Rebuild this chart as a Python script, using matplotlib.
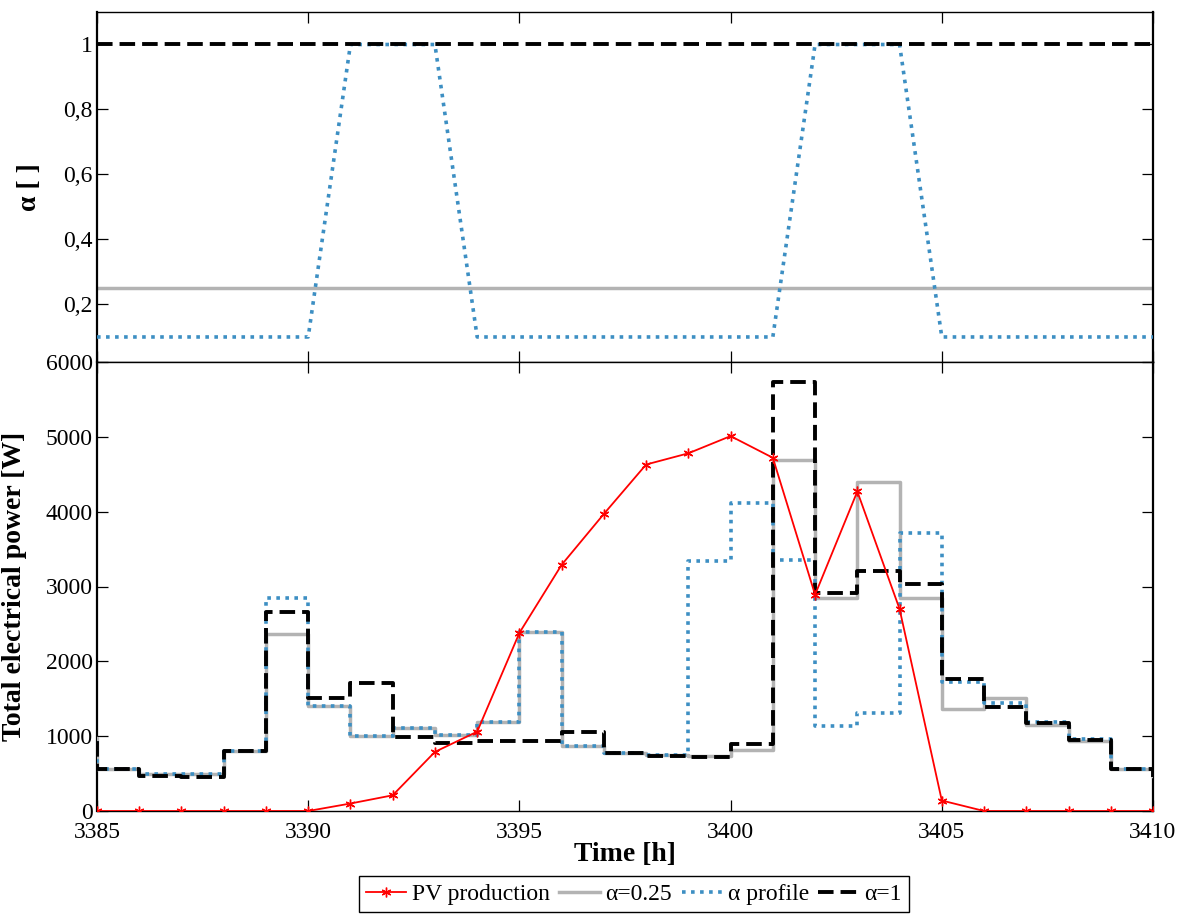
import numpy as np
import matplotlib
matplotlib.use("Agg")
import matplotlib.pyplot as plt
from matplotlib.ticker import FuncFormatter, MultipleLocator

plt.rcParams['font.family'] = ['Liberation Serif', 'DejaVu Serif']
plt.rcParams['mathtext.fontset'] = 'stix'

# ---- data ----
# hourly time stamps of the PV production and of the alpha profile
hours = np.arange(3385, 3411)
pv_production = [0, 0, 0, 0, 0, 0, 100, 210, 790, 1060, 2380, 3290, 3970,
                 4630, 4780, 5010, 4720, 2890, 4270, 2700, 140, 0, 0, 0, 0, 0]
alpha_profile = [0.1, 0.1, 0.1, 0.1, 0.1, 0.1, 1, 1, 1, 0.1, 0.1, 0.1, 0.1,
                 0.1, 0.1, 0.1, 0.1, 1, 1, 1, 0.1, 0.1, 0.1, 0.1, 0.1, 0.1]
alpha_low = 0.25
alpha_high = 1.0

# hourly consumption blocks, each value holds from its start hour to the next
block_start = np.arange(3384, 3411)
power_alpha_025 = [980, 555, 495, 500, 805, 2370, 1400, 1000, 1105, 1015, 1190,
                   2390, 865, 780, 745, 735, 820, 4690, 2840, 4400, 2850, 1360,
                   1515, 1150, 935, 565, 470]
power_alpha_profile = [980, 560, 490, 495, 805, 2850, 1405, 1000, 1105, 1015,
                       1190, 2395, 865, 775, 745, 3345, 4115, 3350, 1130, 1310,
                       3720, 1725, 1440, 1190, 965, 565, 470]
power_alpha_1 = [980, 555, 470, 455, 800, 2660, 1515, 1705, 985, 915, 935, 935,
                 1050, 770, 735, 715, 890, 5730, 2915, 3210, 3040, 1770, 1390,
                 1170, 955, 560, 460]

# ---- styles ----
GRAY = '#b3b3b3'
BLUE = '#3d8fc3'
RED = '#ff0000'
dash_black = (0, (4.0, 1.8))
dot_blue = (0, (1.0, 1.5))
asterisk = (6, 2, 0)

W, H = 1184, 914
fig = plt.figure(figsize=(W / 100, H / 100), dpi=100)
ax_top = fig.add_axes([97 / W, 1 - 362 / H, 1056 / W, 350 / H])
ax_bot = fig.add_axes([97 / W, 1 - 811 / H, 1056 / W, 449 / H])

FS = 17
LABEL_FS = 20

def style_axes(ax):
    for side in ['top', 'bottom']:
        ax.spines[side].set_linewidth(1.0)
    for side in ['left', 'right']:
        ax.spines[side].set_linewidth(1.6)
    ax.tick_params(direction='in', length=8, width=0.9, top=True, right=True,
                   labelsize=FS)
    ax.tick_params(axis='x', pad=8)
    ax.tick_params(axis='y', pad=3)

# ---- top panel: alpha ----
ax_top.plot([hours[0], hours[-1]], [alpha_low, alpha_low], color=GRAY, lw=2.5,
            zorder=2)
ax_top.plot(hours, alpha_profile, color=BLUE, lw=2.6, linestyle=dot_blue,
            zorder=3)
ax_top.plot([hours[0], hours[-1]], [alpha_high, alpha_high], color='black',
            lw=2.8, linestyle=dash_black, zorder=4)
ax_top.set_xlim(3385, 3410)
ax_top.set_ylim(0.023, 1.1)
ax_top.xaxis.set_major_locator(MultipleLocator(5))
ax_top.set_yticks([0.2, 0.4, 0.6, 0.8, 1.0])
ax_top.yaxis.set_major_formatter(
    FuncFormatter(lambda v, p: ('%g' % v).replace('.', ',')))
style_axes(ax_top)
ax_top.tick_params(labelbottom=False)
ax_top.set_ylabel('α [ ]', fontsize=LABEL_FS, fontweight='bold')
ax_top.yaxis.set_label_coords(-0.052, 0.5)

# ---- bottom panel: electrical power ----
l_pv, = ax_bot.plot(hours, pv_production, color=RED, lw=1.3, marker=asterisk,
                    markersize=7, markeredgewidth=1.0, zorder=6,
                    label='PV production')
l_025, = ax_bot.step(block_start, power_alpha_025, where='post', color=GRAY,
                     lw=2.5, zorder=3, label='α=0.25')
l_prof, = ax_bot.step(block_start, power_alpha_profile, where='post',
                      color=BLUE, lw=2.6, linestyle=dot_blue, zorder=4,
                      label='α profile')
l_1, = ax_bot.step(block_start, power_alpha_1, where='post', color='black',
                   lw=2.8, linestyle=dash_black, zorder=5, label='α=1')
ax_bot.set_xlim(3385, 3410)
ax_bot.set_ylim(0, 6000)
ax_bot.xaxis.set_major_locator(MultipleLocator(5))
ax_bot.yaxis.set_major_locator(MultipleLocator(1000))
style_axes(ax_bot)
ax_bot.set_ylabel('Total electrical power [W]', fontsize=LABEL_FS,
                  fontweight='bold')
ax_bot.yaxis.set_label_coords(-0.066, 0.5)
ax_bot.set_xlabel('Time [h]', fontsize=LABEL_FS, fontweight='bold')
ax_bot.xaxis.set_label_coords(0.5, -0.068)

leg = fig.legend(handles=[l_pv, l_025, l_prof, l_1], loc='center',
                 bbox_to_anchor=(634 / W, 1 - 894 / H), ncol=4, fontsize=FS,
                 frameon=True, fancybox=False, edgecolor='black', framealpha=1,
                 handlelength=1.7, handletextpad=0.25, columnspacing=0.4,
                 borderpad=0.3)
leg.get_frame().set_linewidth(1.0)

fig.savefig('out.png', dpi=100)
